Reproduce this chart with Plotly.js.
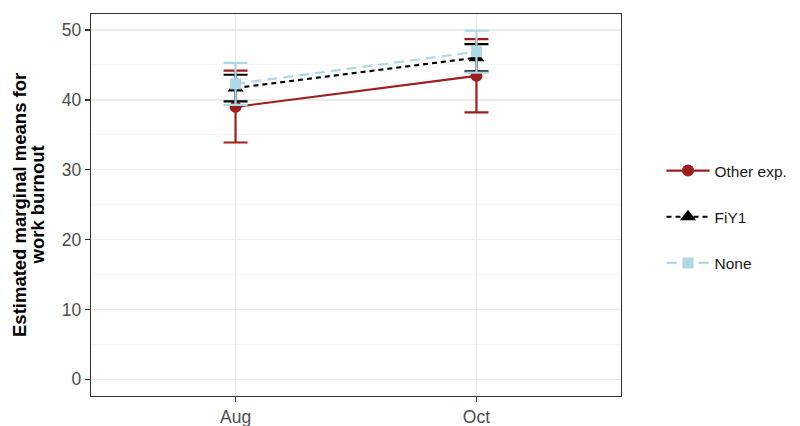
<!DOCTYPE html>
<html>
<head>
<meta charset="utf-8">
<script src="https://cdn.plot.ly/plotly-3.0.1.min.js"></script>
<style>html,body{margin:0;padding:0;background:#fff;}#chart{width:800px;height:426px;}</style>
</head>
<body>
<div id="chart"></div>
<script>
var months = ["Aug", "Oct"];
var groups = ["Other exp.", "FiY1", "None"];
var otherMean = [39.0, 43.45];
var otherLow = [33.9, 38.2];
var otherHigh = [44.2, 48.7];
var fiyMean = [41.7, 46.05];
var fiyLow = [39.8, 44.1];
var fiyHigh = [43.6, 48.0];
var noneMean = [42.3, 46.9];
var noneLow = [39.3, 43.9];
var noneHigh = [45.3, 49.9];
var yTicks = [0, 10, 20, 30, 40, 50];
var titleLines = ["Estimated marginal means for", "work burnout"];

var colors = ["#A11D1D", "#000000", "#ADD8E6"];
var symbols = ["circle", "triangle-up", "square"];
var dashes = ["solid", "5px,4px", "10px,6px"];
var sizes = [12, 14, 11];
var means = [otherMean, fiyMean, noneMean];
var lows = [otherLow, fiyLow, noneLow];
var highs = [otherHigh, fiyHigh, noneHigh];

var traces = groups.map(function (g, i) {
  var m = means[i];
  return {
    type: "scatter",
    mode: "lines+markers",
    name: g,
    legendgroup: g,
    x: months,
    y: m,
    line: {color: colors[i], width: 2.2, dash: dashes[i]},
    marker: {color: colors[i], symbol: symbols[i], size: sizes[i]},
    error_y: {
      type: "data",
      symmetric: false,
      array: highs[i].map(function (h, k) { return h - m[k]; }),
      arrayminus: lows[i].map(function (l, k) { return m[k] - l; }),
      color: colors[i],
      thickness: 2.2,
      width: 12
    }
  };
});

var L = 91, R = 179, T = 14, B = 30, W = 800, H = 426;
var pw = W - L - R, ph = H - T - B;
var titleX = [19, 36.5];
var titleY = 205;
var annotations = titleLines.map(function (t, i) {
  return {
    text: "<b>" + t + "</b>",
    xref: "paper", yref: "paper",
    x: (titleX[i] - L) / pw,
    y: (H - B - titleY) / ph,
    xanchor: "center", yanchor: "middle",
    textangle: -90,
    showarrow: false,
    font: {size: 18.5, color: "#000000", family: "Liberation Sans, Arial, sans-serif"}
  };
});

var layout = {
  width: W,
  height: H,
  margin: {l: L, r: R, t: T, b: B},
  paper_bgcolor: "#ffffff",
  plot_bgcolor: "#ffffff",
  font: {family: "Liberation Sans, Arial, sans-serif", color: "#4D4D4D"},
  annotations: annotations,
  xaxis: {
    type: "category",
    range: [-0.6, 1.6],
    showgrid: true,
    gridcolor: "#EBEBEB",
    gridwidth: 1.3,
    zeroline: false,
    showline: true,
    mirror: true,
    linecolor: "#333333",
    linewidth: 1.2,
    ticks: "outside",
    ticklen: 5,
    tickwidth: 1.2,
    tickcolor: "#333333",
    tickfont: {size: 17.5, color: "#4D4D4D"},
    automargin: false
  },
  yaxis: {
    range: [-2.4, 52.3],
    tickvals: yTicks,
    showgrid: true,
    gridcolor: "#EBEBEB",
    gridwidth: 1.3,
    minor: {dtick: 5, showgrid: true, gridcolor: "#F2F2F2", gridwidth: 0.8},
    zeroline: false,
    showline: true,
    mirror: true,
    linecolor: "#333333",
    linewidth: 1.2,
    ticks: "outside",
    ticklen: 5,
    tickwidth: 1.2,
    tickcolor: "#333333",
    tickfont: {size: 17.5, color: "#4D4D4D"},
    automargin: false
  },
  showlegend: true,
  legend: {
    xref: "container",
    yref: "container",
    x: 661.5 / W,
    xanchor: "left",
    y: 1 - 217 / H,
    yanchor: "middle",
    itemwidth: 43,
    tracegroupgap: 23,
    font: {size: 15.5, color: "#1A1A1A"},
    bgcolor: "rgba(0,0,0,0)"
  }
};

Plotly.newPlot("chart", traces, layout, {displayModeBar: false, staticPlot: true});
</script>
</body>
</html>
